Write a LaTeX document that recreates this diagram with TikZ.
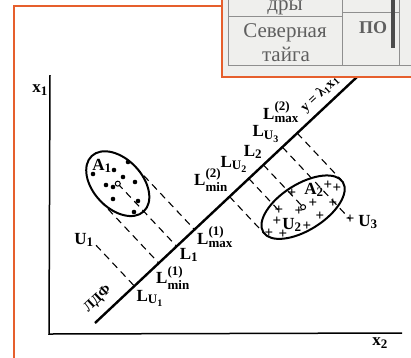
\documentclass[tikz,border=0pt]{standalone}
\usepackage{amsmath}
\usepackage{fontspec}
\setmainfont{Liberation Serif}
\usetikzlibrary{calc}
\definecolor{frameorange}{RGB}{230,95,45}
\definecolor{tablegray}{RGB}{239,239,237}
\definecolor{inkgray}{RGB}{95,95,95}
\DeclareMathSizes{17}{17}{13}{10}

\begin{document}
\begin{tikzpicture}[
    x=1pt, y=-1pt,
    lbl/.style={font=\bfseries\fontsize{17}{17}\selectfont, inner sep=0pt},
    proj/.style={line width=1.1pt, dash pattern=on 7pt off 5pt},
    blob/.style={line width=2pt},
    pdot/.style={circle, fill=black, inner sep=0pt, minimum size=4.6pt},
    pplus/.style={font=\bfseries\fontsize{15}{15}\selectfont, inner sep=0pt},
    ring/.style={circle, draw, line width=1pt, inner sep=0pt, minimum size=5pt},
    tabtext/.style={text=inkgray, font=\fontsize{21}{21}\selectfont, anchor=base, inner sep=0pt},
    tabline/.style={draw=inkgray!70, line width=0.8pt},
  ]
  \useasboundingbox (0,0) rectangle (411,357);

  % axes
  \coordinate (ax0) at (49,334);
  \coordinate (axY) at (50,75);
  \coordinate (axX) at (402,333);
  \draw[line width=1.5pt] (axY) -- (ax0) -- (axX);
  \node[lbl] (nx1) at (40,90) {$\textbf{x}_{\textbf{1}}$};
  \node[lbl] (nx2) at (380,343) {$\textbf{x}_{\textbf{2}}$};

  % discriminant line, s along it, t across it
  \begin{scope}[shift={(95,323)}, rotate=43.2]
    \coordinate (O) at (0,0);
    \coordinate (E) at (375,0);
    % feet of the projections
    \coordinate (fU1) at (54,0);
    \coordinate (fmin1) at (87.5,0);
    \coordinate (f1) at (112,0);
    \coordinate (fmax1) at (136.5,0);
    \coordinate (fmin2) at (184.6,0);
    \coordinate (fU2) at (211,0);
    \coordinate (f2) at (231,0);
    \coordinate (fU3) at (257,0);
    \coordinate (fmax2) at (277.4,0);
    % class A1 (dots)
    \coordinate (cA1) at (112,-86);
    \coordinate (tmin1) at (87.5,-86);
    \coordinate (tmax1) at (136.5,-86);
    \coordinate (pU1) at (54,-56);
    \draw[blob] (cA1) ellipse [x radius=24.5, y radius=38];
    % class A2 (crosses)
    \coordinate (cA2) at (231,58);
    \coordinate (tmin2) at (184.6,51.1);
    \coordinate (tmax2) at (277.4,64.9);
    \coordinate (pU2) at (211,44);
    \coordinate (pU3) at (257,99);
    \draw[blob, rotate around={-11:(231,58)}] (cA2) ellipse [x radius=47, y radius=23];
  \end{scope}
  \draw[line width=2.4pt] (O) -- (E);

  % projections
  \draw[proj] (pU1) -- (fU1);
  \draw[proj] (tmin1) -- (fmin1);
  \draw[proj] (cA1) -- (f1);
  \draw[proj] (tmax1) -- (fmax1);
  \draw[proj] (fmin2) -- (tmin2);
  \draw[proj] (fU2) -- (pU2);
  \draw[proj] (f2) -- (cA2);
  \draw[proj] (fU3) -- (pU3);
  \draw[proj] (fmax2) -- (tmax2);

  % points of the classes
  \foreach \p [count=\i] in {(93,174),(114,170),(128,162),(123,177),(135,182),
                             (106,185),(113,187),(113,199),(138,201),(134,212)}
    \node[pdot] (a\i) at \p {};
  \foreach \p [count=\i] in {(292,193),(277,221),(299,211),(307,226),(269,233),(283,234),
                             (313,203),(320,216),(328,185),(333,203),(337,188)}
    \node[pplus] (b\i) at \p {+};
  \node[ring, fill=white] (mA1) at (cA1) {};
  \node[ring, fill=white] (mA2) at (cA2) {};
  \node[pplus] (mU2) at (pU2) {+};
  \node[pplus] (mU3) at (pU3) {+};

  \node[lbl] (nA1) at (102,166) {$\textbf{A}_{\textbf{1}}$};
  \node[lbl] (nA2) at (314,190) {$\textbf{A}_{\textbf{2}}$};
  \node[lbl] (nU1) at (84,240) {$\textbf{U}_{\textbf{1}}$};
  \node[lbl] (nU2) at (292,225) {$\textbf{U}_{\textbf{2}}$};
  \node[lbl] (nU3) at (368,222) {$\textbf{U}_{\textbf{3}}$};

  % marks on the line
  \node[lbl] (lU1) at (150,298) {$\textbf{L}_{\textbf{U}_{\textbf{1}}}$};
  \node[lbl] (lmin1) at (173,278) {$\textbf{L}^{\textbf{(1)}}_{\textbf{min}}$};
  \node[lbl] (l1) at (189,255) {$\textbf{L}_{\textbf{1}}$};
  \node[lbl] (lmax1) at (215,237) {$\textbf{L}^{\textbf{(1)}}_{\textbf{max}}$};
  \node[lbl] (lmin2) at (211,180) {$\textbf{L}^{\textbf{(2)}}_{\textbf{min}}$};
  \node[lbl] (lU2) at (234,164) {$\textbf{L}_{\textbf{U}_{\textbf{2}}}$};
  \node[lbl] (l2) at (253,152) {$\textbf{L}_{\textbf{2}}$};
  \node[lbl] (lU3) at (266,134) {$\textbf{L}_{\textbf{U}_{\textbf{3}}}$};
  \node[lbl] (lmax2) at (281,112) {$\textbf{L}^{\textbf{(2)}}_{\textbf{max}}$};
  \node[lbl, font=\bfseries\fontsize{14}{14}\selectfont, rotate=43.2] (ldf) at (98,299) {ЛДФ};
  \node[lbl, font=\bfseries\fontsize{14}{14}\selectfont, rotate=43.2] (eq) at (320,94)
    {y = λ$_{\textbf{1}}$x$_{\textbf{1}}$};

  % pasted table fragment
  \fill[tablegray] (222,-3) rectangle (414,77);
  \draw[tabline] (228,-3) -- (228,65) -- (414,65);
  \draw[tabline] (228,16) -- (342,16);
  \draw[tabline] (342,-3) -- (342,65);
  \draw[tabline] (342,12) -- (399,12);
  \draw[tabline] (399,-3) -- (399,65);
  \fill[inkgray!80!black] (390.5,-3) rectangle (394.5,48);
  \node[tabtext] (t1) at (285,10) {дры};
  \node[tabtext] (t2) at (285,37.5) {Северная};
  \node[tabtext] (t3) at (286,61.5) {тайга};
  \node[tabtext, font=\bfseries\fontsize{18}{18}\selectfont] (t4) at (373,33) {ПО};

  % orange frames
  \draw[frameorange, line width=2.4pt] (14,360) -- (14,6) -- (222,6);
  \draw[frameorange, line width=2.4pt] (222,-3) -- (222,77) -- (414,77);
\end{tikzpicture}
\end{document}
